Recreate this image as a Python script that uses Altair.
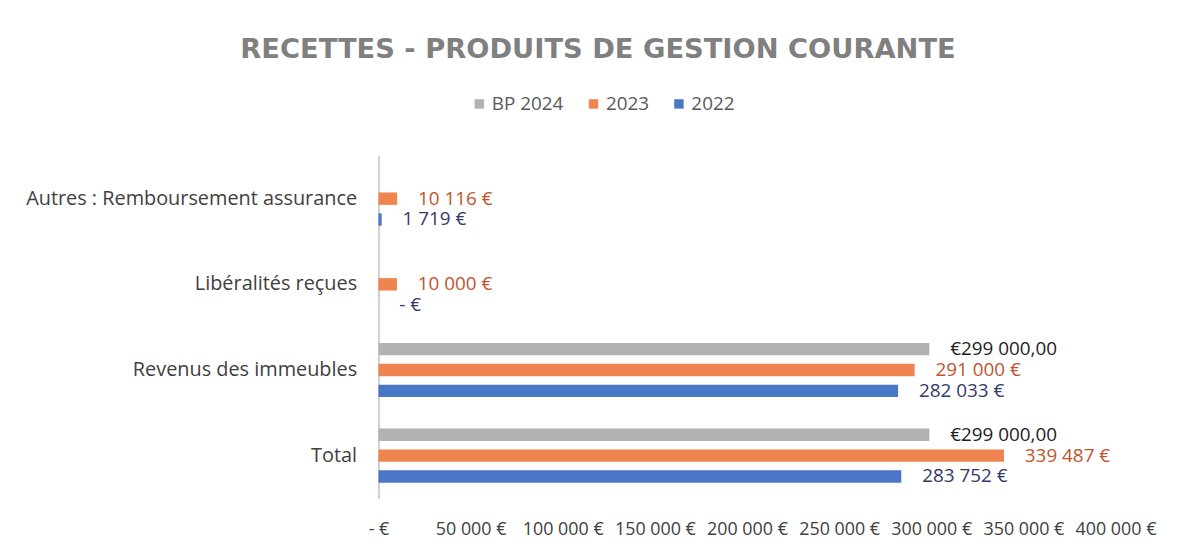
import altair as alt
import pandas as pd

categories = ["Autres : Remboursement assurance", "Libéralités reçues", "Revenus des immeubles", "Total"]
series = ["BP 2024", "2023", "2022"]
bp2024 = [None, None, 299000, 299000]
v2023 = [10116, 10000, 291000, 339487]
v2022 = [1719, 0, 282033, 283752]
x_ticks = [0, 50000, 100000, 150000, 200000, 250000, 300000, 350000, 400000]

bar_colors = ["#B2B2B2", "#F0844F", "#4A76C6"]
label_colors = ["#1E1E1E", "#C0552C", "#333A68"]


def fr(v):
    return f"{v:,.0f}".replace(",", " ")


def label_for(s, v):
    if v is None:
        return None
    if s == "BP 2024":
        return "€" + fr(v) + ",00"
    if v == 0:
        return "-    €"
    return fr(v) + " €"


rows = []
for s, vals in zip(series, [bp2024, v2023, v2022]):
    for c, v in zip(categories, vals):
        if v is None:
            continue
        rows.append({"cat": c, "serie": s, "value": v, "label": label_for(s, v)})
df = pd.DataFrame(rows)

FONT = "Open Sans"

y_enc = alt.Y("cat:N", sort=categories, title=None,
              scale=alt.Scale(paddingInner=0.27, paddingOuter=0.135),
              axis=alt.Axis(ticks=False, labelFontSize=20, labelColor="#404040",
                            labelFont=FONT, labelPadding=22, labelLimit=500,
                            domainColor="#D0D0D0", domainWidth=2, grid=False))
yoff = alt.YOffset("serie:N", sort=series,
                   scale=alt.Scale(domain=series, paddingInner=0.4, paddingOuter=0.2))
x_enc = alt.X("value:Q", title=None,
              scale=alt.Scale(domain=[0, 400000], nice=False),
              axis=alt.Axis(values=x_ticks, domain=False, ticks=False, grid=False,
                            labelFontSize=18, labelColor="#404040", labelFont=FONT,
                            labelPadding=22, labelFlush=False, labelOverlap=False,
                            labelExpr="datum.value == 0 ? '-    €' : replace(format(datum.value, ',.0f'), /,/g, ' ') + ' €'"))

bars = alt.Chart(df).mark_bar(height=12.5).encode(
    y=y_enc, yOffset=yoff, x=x_enc,
    color=alt.Color("serie:N", sort=series,
                    scale=alt.Scale(domain=series, range=bar_colors),
                    legend=alt.Legend(title=None, orient="none", direction="horizontal",
                                      legendX=92, legendY=-62, symbolType="square",
                                      symbolSize=90, symbolStrokeWidth=0,
                                      labelFontSize=19, labelFont=FONT,
                                      labelColor="#595959", columnPadding=20,
                                      labelOffset=3)),
)

texts = alt.Chart(df).mark_text(align="left", baseline="middle", dx=21, fontSize=19, font=FONT).encode(
    y=alt.Y("cat:N", sort=categories), yOffset=yoff, x=alt.X("value:Q"),
    text="label:N",
    color=alt.Color("serie:N", scale=alt.Scale(domain=series, range=label_colors), legend=None),
)

chart = alt.layer(bars, texts).resolve_scale(color="independent").properties(
    width=742, height=345,
    autosize=alt.AutoSizeParams(type="none"),
    padding={"left": 373, "top": 147, "right": 69, "bottom": 48},
    title=alt.TitleParams("RECETTES - PRODUITS DE GESTION COURANTE", fontSize=27.5,
                          font="DejaVu Sans", fontWeight="bold", color="#808080",
                          anchor="middle", dx=-150, offset=31),
).configure_view(stroke=None)

chart.save("out.html", embed_options={"renderer": "svg", "actions": False})
